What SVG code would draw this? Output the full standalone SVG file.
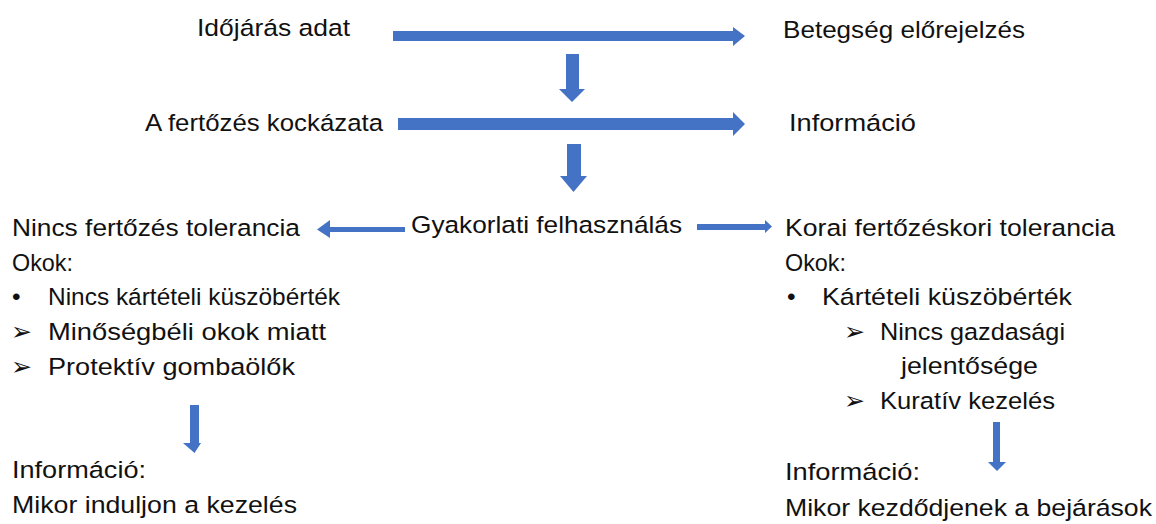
<svg xmlns="http://www.w3.org/2000/svg" width="1156" height="524" viewBox="0 0 1156 524">
<style>
text{font-family:"Liberation Sans","DejaVu Sans",sans-serif;font-size:24.5px;fill:#111}
.sym{font-family:"DejaVu Sans",sans-serif;font-size:25px}
.arr{fill:#4472C4}
</style>
<rect width="1156" height="524" fill="#fff"/>
<g id="connectors">
<polygon class="arr" points="393,31 733,31 733,27 745,36 733,46 733,41 393,41"/>
<polygon class="arr" points="398,118 733,118 733,112 745,124 733,136 733,130 398,130"/>
<polygon class="arr" points="566,54 579,54 579,89 585,89 572,102 559,89 566,89"/>
<polygon class="arr" points="567,144 581,144 581,176 587,176 573.5,192 560,176 567,176"/>
<polygon class="arr" points="405,227 330,227 330,220 317,229.5 330,238 330,232 405,232"/>
<polygon class="arr" points="697,224 765,224 765,220 772,226.5 765,233 765,230 697,230"/>
<polygon class="arr" points="190,405 199,405 199,443 201,443 194.5,453 183,443 190,443"/>
<polygon class="arr" points="993,422 1000,422 1000,462 1006,462 997,471 988,462 993,462"/>
</g>
<g id="idojaras"><text x="197" y="36" textLength="153" lengthAdjust="spacingAndGlyphs">Időjárás adat</text></g>
<g id="betegseg"><text x="783" y="38" textLength="242" lengthAdjust="spacingAndGlyphs">Betegség előrejelzés</text></g>
<g id="fertozes"><text x="145" y="131" textLength="238" lengthAdjust="spacingAndGlyphs">A fertőzés kockázata</text></g>
<g id="informacio"><text x="789" y="131" textLength="127" lengthAdjust="spacingAndGlyphs">Információ</text></g>
<g id="gyakorlati"><text x="411" y="233" textLength="271" lengthAdjust="spacingAndGlyphs">Gyakorlati felhasználás</text></g>
<g id="nincs">
<text x="12" y="236" textLength="288" lengthAdjust="spacingAndGlyphs">Nincs fertőzés tolerancia</text>
<text x="12" y="271" textLength="61" lengthAdjust="spacingAndGlyphs">Okok:</text>
<text x="12" y="305">•</text>
<text x="48" y="305" textLength="292" lengthAdjust="spacingAndGlyphs">Nincs kártételi küszöbérték</text>
<text class="sym" x="11" y="340">➢</text>
<text x="48" y="340" textLength="278" lengthAdjust="spacingAndGlyphs">Minőségbéli okok miatt</text>
<text class="sym" x="11" y="375">➢</text>
<text x="48" y="375" textLength="247" lengthAdjust="spacingAndGlyphs">Protektív gombaölők</text>
</g>
<g id="info-left">
<text x="12" y="478" textLength="134" lengthAdjust="spacingAndGlyphs">Információ:</text>
<text x="12" y="513" textLength="285" lengthAdjust="spacingAndGlyphs">Mikor induljon a kezelés</text>
</g>
<g id="korai">
<text x="785" y="236" textLength="330" lengthAdjust="spacingAndGlyphs">Korai fertőzéskori tolerancia</text>
<text x="785" y="271" textLength="61" lengthAdjust="spacingAndGlyphs">Okok:</text>
<text x="787" y="305">•</text>
<text x="822" y="305" textLength="250" lengthAdjust="spacingAndGlyphs">Kártételi küszöbérték</text>
<text class="sym" x="844" y="340">➢</text>
<text x="880" y="340" textLength="185" lengthAdjust="spacingAndGlyphs">Nincs gazdasági</text>
<text x="901" y="374" textLength="137" lengthAdjust="spacingAndGlyphs">jelentősége</text>
<text class="sym" x="844" y="409">➢</text>
<text x="880" y="409" textLength="175" lengthAdjust="spacingAndGlyphs">Kuratív kezelés</text>
</g>
<g id="info-right">
<text x="785" y="480" textLength="135" lengthAdjust="spacingAndGlyphs">Információ:</text>
<text x="785" y="516" textLength="367" lengthAdjust="spacingAndGlyphs">Mikor kezdődjenek a bejárások</text>
</g>
</svg>
